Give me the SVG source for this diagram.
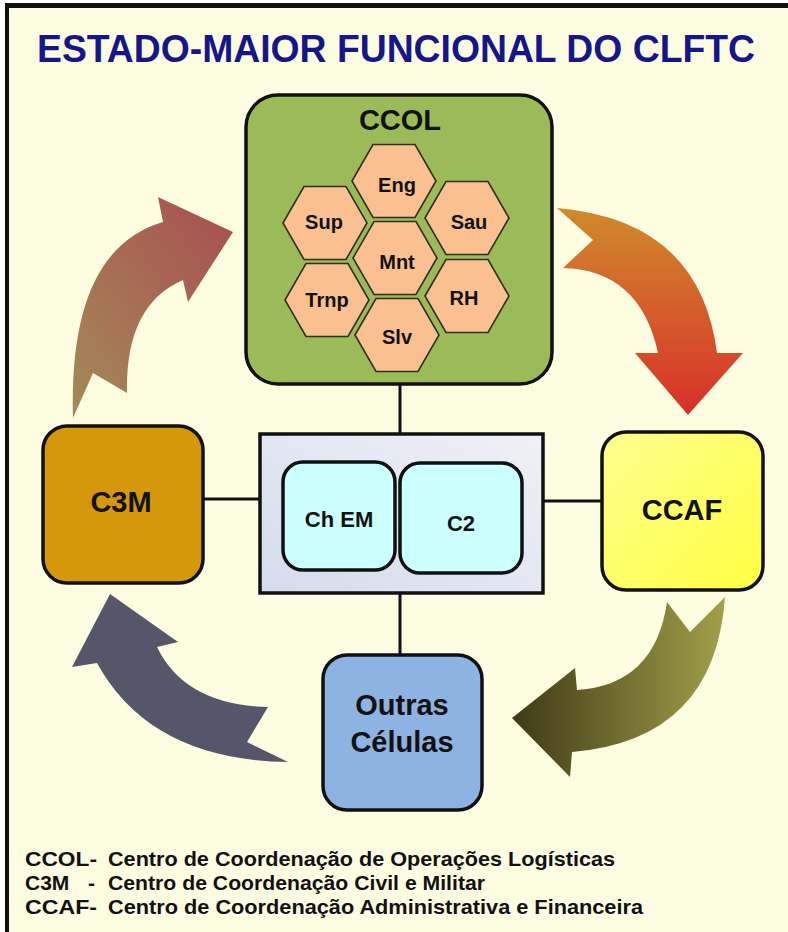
<svg xmlns="http://www.w3.org/2000/svg" width="788" height="932" viewBox="0 0 788 932">
<defs>
<style>
.lbl{font-family:"Liberation Sans",Arial,sans-serif;font-weight:bold;fill:#111;text-anchor:middle}
.big{font-size:29px}
.hx{font-size:20px}
.box{stroke:#111;stroke-width:3.5}
.hexs{fill:#FAC090;stroke:#2f2f22;stroke-width:1.6}
.conn{stroke:#111;stroke-width:3;fill:none}
.leg{font-family:"Liberation Sans",Arial,sans-serif;font-weight:bold;font-size:21px;fill:#111}
</style>
<polygon id="hex" points="-42,0 -21,-36.5 21,-36.5 42,0 21,36.5 -21,36.5"/>
<linearGradient id="gTL" x1="0" y1="1" x2="1" y2="0"><stop offset="0" stop-color="#A48A58"/><stop offset="1" stop-color="#A84E50"/></linearGradient>
<linearGradient id="gTR" x1="0" y1="0" x2="0" y2="1"><stop offset="0" stop-color="#D08A2C"/><stop offset="1" stop-color="#D8302A"/></linearGradient>
<linearGradient id="gBR" x1="0" y1="0" x2="1" y2="0"><stop offset="0" stop-color="#3E3A16"/><stop offset="1" stop-color="#A3A04A"/></linearGradient>
<linearGradient id="gPan" x1="0" y1="1" x2="1" y2="0"><stop offset="0" stop-color="#D3DCEE"/><stop offset="1" stop-color="#F0F1F6"/></linearGradient>
<linearGradient id="gCCAF" x1="0" y1="0" x2="1" y2="1"><stop offset="0" stop-color="#FFFF90"/><stop offset="1" stop-color="#FFFF40"/></linearGradient>
</defs>
<rect x="0" y="0" width="788" height="932" fill="#FFFFFF"/>
<rect x="5" y="5" width="783" height="927" fill="#FDFDE2"/>
<line x1="5" y1="5.5" x2="788" y2="5.5" stroke="#111" stroke-width="5"/>
<line x1="7" y1="3" x2="7" y2="932" stroke="#111" stroke-width="4"/>

<text x="396" y="62" font-family="'Liberation Sans',Arial,sans-serif" font-weight="bold" font-size="38" fill="#16168A" text-anchor="middle" textLength="718" lengthAdjust="spacingAndGlyphs">ESTADO-MAIOR FUNCIONAL DO CLFTC</text>

<g id="arrows">
<path d="M73,418 Q68,250 163,222 L158,197 L233,232 L188,302 L183,280 Q125,305 127,393 L93,373 Z" fill="url(#gTL)"/>
<path d="M557,208 Q700,220 717,353 L743,353 L688,415 L635,353 L658,353 Q640,270 563,268 L593,240 Z" fill="url(#gTR)"/>
<path d="M725,597 Q715,740 572,752 L570,777 L512,718 L575,668 L577,690 Q655,685 667,602 L690,632 Z" fill="url(#gBR)"/>
<path d="M288,762 Q150,760 97,663 L72,667 L110,594 L178,642 L157,647 Q185,705 268,707 L247,742 Z" fill="#56566A"/>
</g>

<g id="connectors">
<line class="conn" x1="400" y1="384" x2="400" y2="435"/>
<line class="conn" x1="203" y1="499" x2="260" y2="499"/>
<line class="conn" x1="543" y1="501" x2="602" y2="501"/>
<line class="conn" x1="400" y1="593" x2="400" y2="656"/>
</g>

<g id="ccol">
<rect class="box" x="246" y="95" width="306" height="289" rx="32" fill="#9BBB59"/>
<text class="lbl big" x="400" y="130">CCOL</text>
<g id="hex-eng"><use href="#hex" class="hexs" x="394" y="181"/><text class="lbl hx" x="397" y="192">Eng</text></g>
<g id="hex-sup"><use href="#hex" class="hexs" x="325" y="223"/><text class="lbl hx" x="324" y="229">Sup</text></g>
<g id="hex-sau"><use href="#hex" class="hexs" x="467" y="218"/><text class="lbl hx" x="469" y="229">Sau</text></g>
<g id="hex-mnt"><use href="#hex" class="hexs" x="395" y="258"/><text class="lbl hx" x="397" y="269">Mnt</text></g>
<g id="hex-trnp"><use href="#hex" class="hexs" x="327" y="300"/><text class="lbl hx" x="327" y="307">Trnp</text></g>
<g id="hex-rh"><use href="#hex" class="hexs" x="467" y="296"/><text class="lbl hx" x="464" y="305">RH</text></g>
<g id="hex-slv"><use href="#hex" class="hexs" x="397" y="335"/><text class="lbl hx" x="397" y="344">Slv</text></g>
</g>

<g id="panel">
<rect class="box" x="260" y="434" width="283" height="159" fill="url(#gPan)"/>
</g>
<g id="chem">
<rect class="box" x="283" y="462" width="112" height="108" rx="20" fill="#CCFFFF"/>
<text class="lbl" font-size="22" x="339" y="527">Ch EM</text>
</g>
<g id="c2">
<rect class="box" x="400" y="463" width="122" height="110" rx="20" fill="#CCFFFF"/>
<text class="lbl" font-size="22" x="461" y="531">C2</text>
</g>

<g id="c3m">
<rect class="box" x="43" y="426" width="160" height="157" rx="24" fill="#D4980A"/>
<text class="lbl big" x="121" y="512">C3M</text>
</g>

<g id="ccaf">
<rect class="box" x="602" y="432" width="161" height="158" rx="24" fill="url(#gCCAF)"/>
<text class="lbl big" x="682" y="520">CCAF</text>
</g>

<g id="outras">
<rect class="box" x="323" y="655" width="159" height="155" rx="24" fill="#8DB3E2"/>
<text class="lbl big" x="402" y="715">Outras</text>
<text class="lbl big" x="402" y="752">Células</text>
</g>

<g id="legend">
<text class="leg" x="25" y="866" textLength="72" lengthAdjust="spacingAndGlyphs">CCOL-</text>
<text class="leg" x="108" y="866" textLength="507" lengthAdjust="spacingAndGlyphs">Centro de Coordenação de Operações Logísticas</text>
<text class="leg" x="25" y="890">C3M<tspan x="88">-</tspan></text>
<text class="leg" x="108" y="890" textLength="377" lengthAdjust="spacingAndGlyphs">Centro de Coordenação Civil e Militar</text>
<text class="leg" x="25" y="914" textLength="72" lengthAdjust="spacingAndGlyphs">CCAF-</text>
<text class="leg" x="108" y="914" textLength="535" lengthAdjust="spacingAndGlyphs">Centro de Coordenação Administrativa e Financeira</text>
</g>
</svg>
